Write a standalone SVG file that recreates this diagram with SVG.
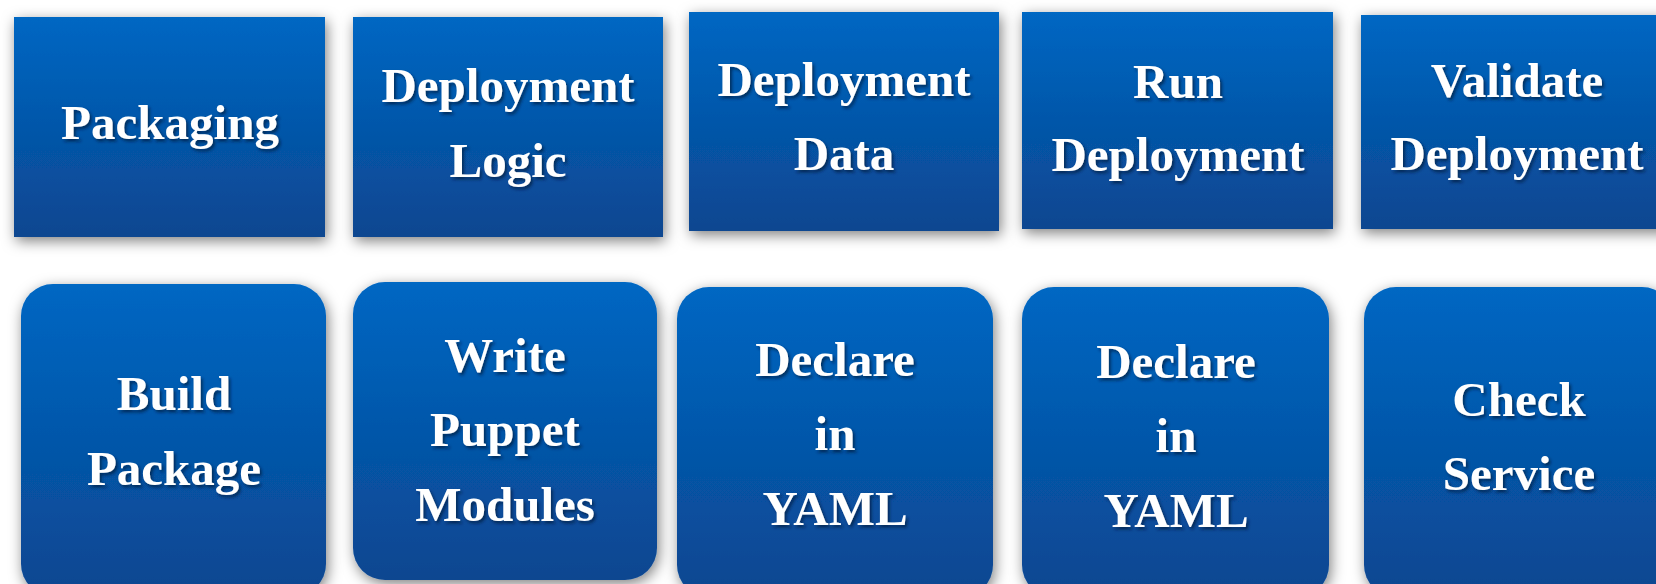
<svg xmlns="http://www.w3.org/2000/svg" width="1656" height="584" viewBox="0 0 1656 584">
<defs>
<linearGradient id="g" x1="0" y1="0" x2="0" y2="1">
<stop offset="0" stop-color="#0067C3"/>
<stop offset="1" stop-color="#0A4690"/>
</linearGradient>
<filter id="sh" x="-10%" y="-10%" width="125%" height="125%">
<feDropShadow dx="2" dy="4" stdDeviation="7" flood-color="#000" flood-opacity="0.5"/>
</filter>
<filter id="ts" x="-10%" y="-20%" width="120%" height="150%">
<feDropShadow dx="2" dy="2.5" stdDeviation="1.5" flood-color="#001a3a" flood-opacity="0.7"/>
</filter>
</defs>
<style>
.b{fill:url(#g);filter:url(#sh)}
.t{font-family:"Liberation Serif","Times New Roman",serif;font-weight:bold;font-size:49px;fill:#fff;text-anchor:middle;filter:url(#ts)}
</style>
<rect width="1656" height="584" fill="#fff"/>
<g id="n-packaging">
<rect class="b" x="14" y="17" width="311" height="220"/>
<text class="t" x="170" y="139">Packaging</text>
</g>
<g id="n-deployment-logic">
<rect class="b" x="353" y="17" width="310" height="220"/>
<text class="t" x="508" y="102">Deployment</text>
<text class="t" x="508" y="177">Logic</text>
</g>
<g id="n-deployment-data">
<rect class="b" x="689" y="12" width="310" height="219"/>
<text class="t" x="844" y="96">Deployment</text>
<text class="t" x="844" y="170">Data</text>
</g>
<g id="n-run-deployment">
<rect class="b" x="1022" y="12" width="311" height="217"/>
<text class="t" x="1178" y="98">Run</text>
<text class="t" x="1178" y="171">Deployment</text>
</g>
<g id="n-validate-deployment">
<rect class="b" x="1361" y="15" width="312" height="214"/>
<text class="t" x="1517" y="97">Validate</text>
<text class="t" x="1517" y="170">Deployment</text>
</g>
<g id="n-build-package">
<rect class="b" x="21" y="284" width="305" height="312" rx="32" ry="32"/>
<text class="t" x="174" y="410">Build</text>
<text class="t" x="174" y="485">Package</text>
</g>
<g id="n-write-puppet-modules">
<rect class="b" x="353" y="282" width="304" height="298" rx="32" ry="32"/>
<text class="t" x="505" y="372">Write</text>
<text class="t" x="505" y="446">Puppet</text>
<text class="t" x="505" y="521">Modules</text>
</g>
<g id="n-declare-yaml-1">
<rect class="b" x="677" y="287" width="316" height="310" rx="32" ry="32"/>
<text class="t" x="835" y="376">Declare</text>
<text class="t" x="835" y="450">in</text>
<text class="t" x="835" y="525">YAML</text>
</g>
<g id="n-declare-yaml-2">
<rect class="b" x="1022" y="287" width="307" height="310" rx="32" ry="32"/>
<text class="t" x="1176" y="378">Declare</text>
<text class="t" x="1176" y="452">in</text>
<text class="t" x="1176" y="527">YAML</text>
</g>
<g id="n-check-service">
<rect class="b" x="1364" y="287" width="310" height="310" rx="32" ry="32"/>
<text class="t" x="1519" y="416">Check</text>
<text class="t" x="1519" y="490">Service</text>
</g>
<g id="connectors"/>
</svg>
